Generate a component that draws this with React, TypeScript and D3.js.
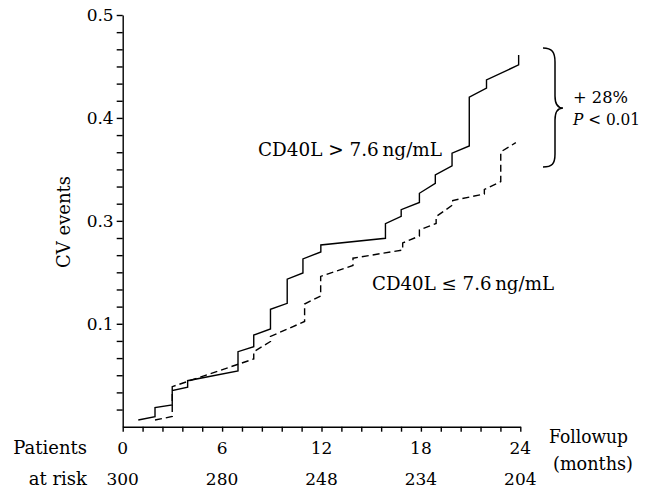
import React, { useEffect, useRef } from 'react';
import * as d3 from 'd3';

// follow-up months where events occur, and cumulative CV event rate
const highMonths = [0.94, 1.95, 1.95, 2.99, 2.99, 3.92, 3.92, 6.96, 6.96, 7.91, 7.91, 8.92, 8.92, 9.93, 9.93, 10.88, 10.88, 11.96, 11.96, 15.86, 15.86, 16.81, 16.81, 17.91, 17.91, 18.87, 18.87, 19.88, 19.88, 20.92, 20.92, 21.96, 21.96, 23.9, 23.9];
const highValues = [0.0065, 0.0097, 0.0185, 0.0211, 0.035, 0.0383, 0.0447, 0.0541, 0.0729, 0.0777, 0.0891, 0.0949, 0.1141, 0.1199, 0.1433, 0.1494, 0.163, 0.1698, 0.1766, 0.1831, 0.1973, 0.2043, 0.2109, 0.2179, 0.2268, 0.2365, 0.2446, 0.2534, 0.2657, 0.2728, 0.3201, 0.3289, 0.3369, 0.3515, 0.3612];

const lowMonths = [1.95, 2.99, 2.99, 7.91, 7.91, 8.92, 8.92, 10.98, 10.98, 11.95, 11.95, 13.9, 13.9, 16.9, 16.9, 17.91, 17.91, 18.92, 18.92, 19.92, 19.92, 21.83, 21.83, 22.82, 22.82, 23.73];
const lowValues = [0.0065, 0.0099, 0.0389, 0.0658, 0.0729, 0.0828, 0.0877, 0.1022, 0.1192, 0.127, 0.146, 0.1567, 0.1637, 0.1717, 0.1785, 0.1853, 0.1912, 0.1975, 0.2041, 0.2155, 0.2198, 0.2261, 0.2305, 0.2381, 0.267, 0.276];

const xTicks = [0, 6, 12, 18, 24];
const atRisk = ['300', '280', '248', '234', '204'];
const yTicks = [0.1, 0.2, 0.3, 0.4];
const yLabels = ['0.1', '0.3', '0.4', '0.5'];

const FONT = '"DejaVu Serif", serif';

const App = () => {
  const svgRef = useRef<SVGSVGElement>(null);

  useEffect(() => {
    const svg = d3.select(svgRef.current);
    svg.selectAll('*').remove();

    const x = d3.scaleLinear().domain([0, 24]).range([122.7, 520.3]);
    const y = d3.scaleLinear().domain([0, 0.4]).range([426.7, 15]);

    // y axis: minor ticks every 1/6 of a step
    const yMinor = d3.range(1, 25).map(i => (i * 0.4) / 24);
    const yAxis = svg.append('g')
      .attr('transform', `translate(${x(0)},0)`)
      .call(d3.axisLeft(y).tickValues(yMinor).tickSize(6).tickSizeOuter(0).tickFormat(() => ''));

    const xMinor = d3.range(0, 21).map(i => i * 1.2);
    const xAxis = svg.append('g')
      .attr('transform', `translate(0,${y(0)})`)
      .call(d3.axisBottom(x).tickValues(xMinor).tickSize(5).tickSizeOuter(0).tickFormat(() => ''));

    [yAxis, xAxis].forEach(g => {
      g.selectAll('path, line').attr('stroke', '#000').attr('stroke-width', 1.4);
    });

    svg.append('g')
      .selectAll('text')
      .data(yTicks)
      .enter()
      .append('text')
      .attr('x', x(0) - 9)
      .attr('y', d => y(d))
      .attr('dy', '0.35em')
      .attr('text-anchor', 'end')
      .text((d, i) => yLabels[i]);

    svg.append('g')
      .selectAll('text')
      .data(xTicks)
      .enter()
      .append('text')
      .attr('x', d => x(d))
      .attr('y', 454)
      .attr('text-anchor', 'middle')
      .text(d => String(d));

    svg.append('g')
      .selectAll('text')
      .data(xTicks)
      .enter()
      .append('text')
      .attr('x', d => x(d))
      .attr('y', 485)
      .attr('text-anchor', 'middle')
      .text((d, i) => atRisk[i]);

    svg.selectAll('text').style('font-family', FONT).style('font-size', '17px');

    const line = d3.line<[number, number]>()
      .x(d => x(d[0]))
      .y(d => y(d[1]));

    svg.append('path')
      .datum(highMonths.map((m, i) => [m, highValues[i]] as [number, number]))
      .attr('d', line)
      .attr('fill', 'none')
      .attr('stroke', '#000')
      .attr('stroke-width', 1.4);

    svg.append('path')
      .datum(lowMonths.map((m, i) => [m, lowValues[i]] as [number, number]))
      .attr('d', line)
      .attr('fill', 'none')
      .attr('stroke', '#000')
      .attr('stroke-width', 1.4)
      .attr('stroke-dasharray', '7,4');

    const label = (tx: number, ty: number, s: string, size = 18, anchor = 'start') =>
      svg.append('text')
        .attr('x', tx)
        .attr('y', ty)
        .attr('text-anchor', anchor)
        .style('font-family', FONT)
        .style('font-size', `${size}px`)
        .text(s);

    label(258, 156, 'CD40L > 7.6\u2009ng/mL').attr('textLength', 184).attr('lengthAdjust', 'spacingAndGlyphs');
    label(372, 290, 'CD40L \u2264 7.6\u2009ng/mL').attr('textLength', 182).attr('lengthAdjust', 'spacingAndGlyphs');

    label(573, 103, '+ 28%', 16).attr('textLength', 55).attr('lengthAdjust', 'spacingAndGlyphs');
    const p = label(573, 125, '', 16).attr('textLength', 67).attr('lengthAdjust', 'spacingAndGlyphs');
    p.append('tspan').attr('font-style', 'italic').text('P');
    p.append('tspan').text(' < 0.01');

    label(549, 443, 'Followup').attr('textLength', 79).attr('lengthAdjust', 'spacingAndGlyphs');
    label(553, 470, '(months)').attr('textLength', 80).attr('lengthAdjust', 'spacingAndGlyphs');
    label(87, 454, 'Patients', 18, 'end');
    label(87, 485, 'at risk', 18, 'end');

    svg.append('text')
      .attr('transform', 'translate(70,222) rotate(-90)')
      .attr('text-anchor', 'middle')
      .style('font-family', FONT)
      .style('font-size', '18px')
      .text('CV events');

    // brace spanning the gap between the two curves at 24 months
    svg.append('path')
      .attr('d', 'M543,48 C552,48 555,52 555,62 L555,96 C555,104 558,108 563,108 C558,108 555,112 555,120 L555,154 C555,164 552,167 543,167')
      .attr('fill', 'none')
      .attr('stroke', '#000')
      .attr('stroke-width', 1.5);
  }, []);

  return (
    <svg
      ref={svgRef}
      width={651}
      height={488}
      style={{ position: 'absolute', left: 0, top: 0, display: 'block', background: '#fff' }}
    />
  );
};

export default App;
